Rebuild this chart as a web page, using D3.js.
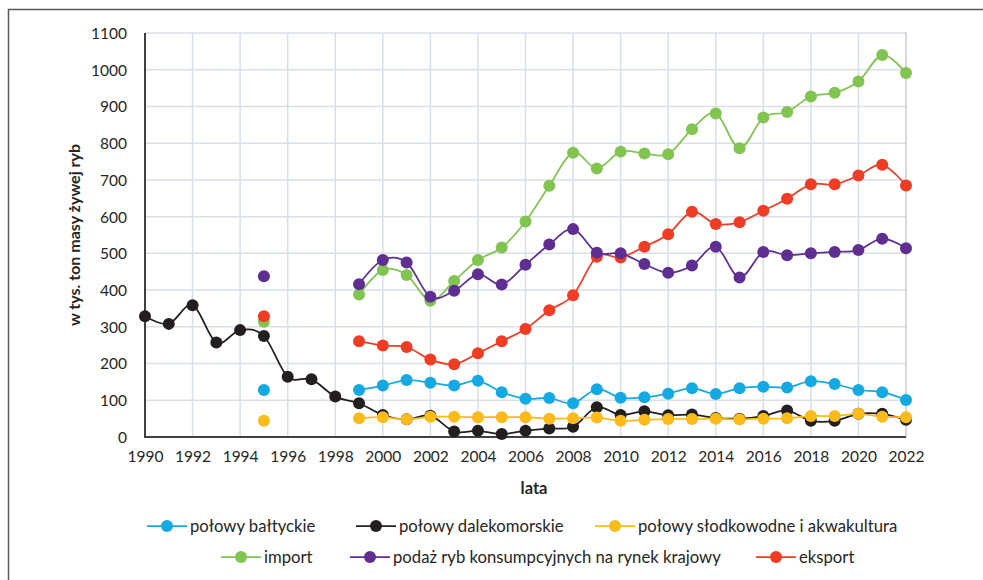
<!DOCTYPE html>
<html>
<head>
<meta charset="utf-8">
<script src="https://cdn.jsdelivr.net/npm/d3@7"></script>
<style>
  body { margin: 0; background: #fff; }
  svg { display: block; font-family: Lato, "Open Sans", sans-serif; }
</style>
</head>
<body>
<div id="chart"></div>
<script>
// --- data (w tys. ton masy żywej ryb) ---
const years = [1990,1991,1992,1993,1994,1995,1996,1997,1998,1999,2000,2001,2002,2003,2004,2005,2006,2007,2008,2009,2010,2011,2012,2013,2014,2015,2016,2017,2018,2019,2020,2021,2022];

const baltyckie = [null,null,null,null,null,128,null,null,null,128,140,155,148,140,153,122,104,106,92,130,107,108,118,133,117,133,137,135,152,144,128,122,101];
const dalekomorskie = [329,308,359,257,291,275,164,157,110,92,60,48,58,15,17,8,17,23,28,81,60,70,59,61,52,50,57,72,44,44,63,63,47];
const slodkowodne = [null,null,null,null,null,44,null,null,null,51,54,48,55,55,54,54,54,50,51,53,44,47,49,49,50,48,50,51,57,57,63,55,54];
const importRyb = [null,null,null,null,null,314,null,null,null,388,455,441,371,425,482,516,587,684,774,731,777,772,770,838,881,786,870,885,927,937,968,1040,991];
const podaz = [null,null,null,null,null,438,null,null,null,416,482,475,382,398,443,415,469,524,566,502,500,471,447,467,518,434,504,495,500,504,509,540,514];
const eksport = [null,null,null,null,null,329,null,null,null,261,249,245,211,198,228,261,294,345,386,491,489,518,552,613,580,585,616,649,688,688,712,741,685];

const yTicks = [0,100,200,300,400,500,600,700,800,900,1000,1100];
const xTicks = [1990,1992,1994,1996,1998,2000,2002,2004,2006,2008,2010,2012,2014,2016,2018,2020,2022];

const series = [
  {name: "połowy bałtyckie", values: baltyckie, color: "#14a9e1"},
  {name: "połowy dalekomorskie", values: dalekomorskie, color: "#231f20"},
  {name: "połowy słodkowodne i akwakultura", values: slodkowodne, color: "#fbbb1b"},
  {name: "import", values: importRyb, color: "#82c452"},
  {name: "podaż ryb konsumpcyjnych na rynek krajowy", values: podaz, color: "#5e2f90"},
  {name: "eksport", values: eksport, color: "#ee3d24"}
];
// draw order seen in the picture (purple over red over green, yellow over black)
const drawOrder = [0, 1, 2, 3, 5, 4];

const W = 983, H = 580;
const m = {left: 145, right: 906, top: 33, bottom: 437};

const svg = d3.select("#chart").append("svg")
  .attr("width", W)
  .attr("height", H);

// outer frame (cut by the window on the right and bottom)
svg.append("path")
  .attr("d", `M8.5,${H + 5} V9.5 H${W + 5}`)
  .attr("fill", "none")
  .attr("stroke", "#595959")
  .attr("stroke-width", 1.5);

const x = d3.scaleLinear().domain([1990, 2022]).range([m.left, m.right]);
const y = d3.scaleLinear().domain([0, 1100]).range([m.bottom, m.top]);

// grid
svg.append("g").selectAll("line.h")
  .data(yTicks.filter(d => d > 0))
  .enter().append("line")
  .attr("x1", m.left).attr("x2", m.right)
  .attr("y1", d => y(d)).attr("y2", d => y(d))
  .attr("stroke", "#d9dfe7").attr("stroke-width", 1.5);

svg.append("g").selectAll("line.v")
  .data(xTicks.filter(d => d > 1990 && d < 2022))
  .enter().append("line")
  .attr("x1", d => x(d)).attr("x2", d => x(d))
  .attr("y1", m.top).attr("y2", m.bottom)
  .attr("stroke", "#d9dfe7").attr("stroke-width", 1.5);

// right border of plot
svg.append("line")
  .attr("x1", m.right).attr("x2", m.right)
  .attr("y1", m.top - 0.75).attr("y2", m.bottom)
  .attr("stroke", "#cbcbcb").attr("stroke-width", 1.5);

// axes
const yAxis = svg.append("g")
  .attr("transform", `translate(${m.left - 18},0)`)
  .call(d3.axisLeft(y).tickValues(yTicks).tickFormat(d3.format("d")).tickSize(0).tickPadding(0));
yAxis.select(".domain").remove();

const xAxis = svg.append("g")
  .attr("transform", `translate(0,${m.bottom + 14})`)
  .call(d3.axisBottom(x).tickValues(xTicks).tickFormat(d3.format("d")).tickSize(0).tickPadding(0));
xAxis.select(".domain").remove();

svg.selectAll(".tick text")
  .attr("font-family", "Lato, sans-serif")
  .attr("font-size", 15.5)
  .attr("fill", "#262626");
yAxis.selectAll(".tick text").attr("dy", "0.35em");
xAxis.selectAll(".tick text").attr("dy", "0.71em");

svg.append("line")
  .attr("x1", m.left).attr("x2", m.left)
  .attr("y1", m.top).attr("y2", m.bottom + 1)
  .attr("stroke", "#404040").attr("stroke-width", 2);
svg.append("line")
  .attr("x1", m.left - 1).attr("x2", m.right)
  .attr("y1", m.bottom).attr("y2", m.bottom)
  .attr("stroke", "#404040").attr("stroke-width", 2);

// axis titles
svg.append("text")
  .attr("transform", `translate(80,${(m.top + m.bottom) / 2}) rotate(-90)`)
  .attr("text-anchor", "middle")
  .attr("font-weight", "bold")
  .attr("font-size", 16)
  .attr("fill", "#262626")
  .text("w tys. ton masy żywej ryb");

svg.append("text")
  .attr("x", 534)
  .attr("y", 494)
  .attr("text-anchor", "middle")
  .attr("font-weight", "bold")
  .attr("font-size", 16.5)
  .attr("fill", "#262626")
  .text("lata");

// lines + markers
const line = d3.line()
  .defined(d => d.v != null)
  .x(d => x(d.year))
  .y(d => y(d.v))
  .curve(d3.curveCatmullRom.alpha(0));

drawOrder.forEach(i => {
  const s = series[i];
  const pts = years.map((yr, k) => ({year: yr, v: s.values[k]}));
  const g = svg.append("g");
  g.append("path")
    .datum(pts)
    .attr("d", line)
    .attr("fill", "none")
    .attr("stroke", s.color)
    .attr("stroke-width", 1.75);
  g.selectAll("circle")
    .data(pts.filter(d => d.v != null))
    .enter().append("circle")
    .attr("cx", d => x(d.year))
    .attr("cy", d => y(d.v))
    .attr("r", 6)
    .attr("fill", s.color);
});

// legend (two rows, Excel style)
const legendPos = [
  {x: 147, y: 526}, {x: 356, y: 526}, {x: 595, y: 526},
  {x: 221, y: 557}, {x: 350, y: 557}, {x: 756, y: 557}
];
const leg = svg.append("g").selectAll("g")
  .data(series)
  .enter().append("g")
  .attr("transform", (d, i) => `translate(${legendPos[i].x},${legendPos[i].y})`);
leg.append("line")
  .attr("x1", 0).attr("x2", 40)
  .attr("stroke", d => d.color).attr("stroke-width", 1.75);
leg.append("circle")
  .attr("cx", 20).attr("r", 6)
  .attr("fill", d => d.color);
leg.append("text")
  .attr("x", 43)
  .attr("dy", "0.35em")
  .attr("font-size", 16.7)
  .attr("fill", "#262626")
  .text(d => d.name);
</script>
</body>
</html>
